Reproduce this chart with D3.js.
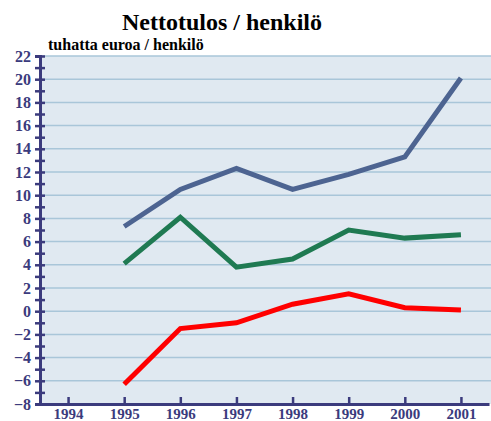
<!DOCTYPE html>
<html>
<head>
<meta charset="utf-8">
<script src="https://cdn.jsdelivr.net/npm/d3@7"></script>
<style>
  body { margin: 0; background: #fff; }
  svg text { font-family: "Liberation Serif", "DejaVu Serif", serif; font-weight: bold; }
</style>
</head>
<body>
<div id="chart"></div>
<script>
const years = [1995, 1996, 1997, 1998, 1999, 2000, 2001];
const xTickYears = [1994, 1995, 1996, 1997, 1998, 1999, 2000, 2001];
const blueSeries = [7.3, 10.5, 12.3, 10.5, 11.8, 13.3, 20.1];
const greenSeries = [4.1, 8.1, 3.8, 4.5, 7.0, 6.3, 6.6];
const redSeries = [-6.3, -1.5, -1.0, 0.6, 1.5, 0.3, 0.1];
const yTicks = [-8, -6, -4, -2, 0, 2, 4, 6, 8, 10, 12, 14, 16, 18, 20, 22];

const width = 491, height = 421;
const margin = { top: 56, right: 0, bottom: 17, left: 40 };
const axisColor = "#3b3b7d";
const serif = "'Liberation Serif', 'DejaVu Serif', serif";

const svg = d3.select("#chart").append("svg")
    .attr("width", width)
    .attr("height", height);

const x = d3.scaleLinear()
    .domain([1993.5, 2001.5])
    .range([margin.left, 489]);

const y = d3.scaleLinear()
    .domain([-8, 22])
    .range([height - margin.bottom, margin.top]);

// plot background
svg.append("rect")
    .attr("x", margin.left)
    .attr("y", margin.top)
    .attr("width", width - margin.left)
    .attr("height", y(-8) - margin.top)
    .attr("fill", "#e0e9f1");

// gridlines
svg.append("g").selectAll("line")
    .data(yTicks.filter(d => d > -8))
    .join("line")
    .attr("x1", margin.left).attr("x2", width)
    .attr("y1", d => y(d)).attr("y2", d => y(d))
    .attr("stroke", "#a9c6d9")
    .attr("stroke-width", 1.5);

// title
svg.append("text")
    .attr("x", 222)
    .attr("y", 30)
    .attr("text-anchor", "middle")
    .style("font-family", serif)
    .style("font-size", "24px")
    .attr("fill", "#000")
    .text("Nettotulos / henkilö");

svg.append("text")
    .attr("x", 48)
    .attr("y", 50)
    .style("font-family", serif)
    .style("font-size", "16px")
    .attr("fill", "#000")
    .text("tuhatta euroa / henkilö");

// y axis
const yAxis = d3.axisLeft(y)
    .tickValues(d3.range(-8, 23, 1))
    .tickSize(5)
    .tickFormat(d => d % 2 === 0 ? (d < 0 ? "\u2212" + Math.abs(d) : d) : "");

const yg = svg.append("g")
    .attr("transform", "translate(" + margin.left + ",0)")
    .call(yAxis);
yg.select(".domain").attr("stroke", axisColor).attr("stroke-width", 3);
yg.selectAll(".tick line")
    .attr("x1", -5).attr("x2", 5)
    .attr("stroke", axisColor).attr("stroke-width", 2.5);
yg.selectAll(".tick text")
    .attr("x", -9)
    .style("font-family", serif)
    .style("font-size", "16px")
    .style("font-weight", "bold")
    .attr("fill", axisColor);

// x axis
const xAxis = d3.axisBottom(x)
    .tickValues(xTickYears)
    .tickSize(0)
    .tickFormat(d3.format("d"));

const xg = svg.append("g")
    .attr("transform", "translate(0," + y(-8) + ")")
    .call(xAxis);
xg.select(".domain").attr("stroke", axisColor).attr("stroke-width", 3);
xg.selectAll(".tick line")
    .attr("y1", -7).attr("y2", 0)
    .attr("stroke", axisColor).attr("stroke-width", 2.5);
xg.selectAll(".tick text")
    .attr("y", 4)
    .style("font-family", serif)
    .style("font-size", "15px")
    .style("font-weight", "bold")
    .attr("fill", axisColor);

// lines
const line = d3.line()
    .x((d, i) => x(years[i]))
    .y(d => y(d));

const series = [
    { values: blueSeries, color: "#4d6491" },
    { values: greenSeries, color: "#1f7a52" },
    { values: redSeries, color: "#ff0000" }
];

svg.append("g").selectAll("path")
    .data(series)
    .join("path")
    .attr("d", d => line(d.values))
    .attr("fill", "none")
    .attr("stroke", d => d.color)
    .attr("stroke-width", 5)
    .attr("stroke-linejoin", "miter");
</script>
</body>
</html>
